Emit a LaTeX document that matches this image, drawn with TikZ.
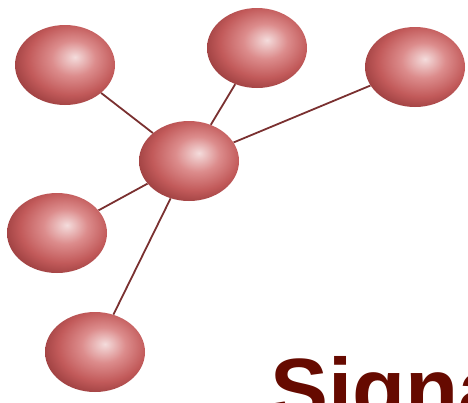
\documentclass[tikz,border=0pt]{standalone}
\usepackage{fontspec}
\setsansfont{Liberation Sans}
\usepackage{xcolor}
\usetikzlibrary{
  positioning,
  shapes.geometric,
  backgrounds
}
\definecolor{edgecol}{HTML}{7A3030}
\definecolor{titlecol}{HTML}{660A00}
\definecolor{ballhi}{HTML}{F4DCDC}
\definecolor{ballmid}{HTML}{DC8C8C}
\definecolor{ballbody}{HTML}{C25A5A}
\definecolor{ballrim}{HTML}{8E3536}
\definecolor{balldark}{HTML}{642020}
\pgfdeclareradialshading{redball}{\pgfpoint{5bp}{5bp}}{%
  color(0bp)=(ballhi);
  color(11bp)=(ballmid);
  color(22bp)=(ballbody);
  color(33bp)=(ballrim);
  color(42bp)=(balldark);
  color(70bp)=(balldark)}

\begin{document}
\begin{tikzpicture}[
  x=1pt, y=1pt,
  ball/.style={
    ellipse,
    minimum width=100pt,
    minimum height=80pt,
    inner sep=0pt,
    shading=redball
  },
  link/.style={draw=edgecol, line width=1.8pt}
]
\useasboundingbox (0,0) rectangle (468,-402);

% Balls
\node[ball] (hub) at (189,-161) {};
\node[ball] (nw) at (65,-65) {};
\node[ball] (north) at (257,-48) {};
\node[ball] (east) at (415,-67) {};
\node[ball] (west) at (57,-233) {};
\node[ball] (south) at (95,-352) {};

% Links
\begin{scope}[on background layer]
\draw[link] (hub) -- (nw);
\draw[link] (hub) -- (north);
\draw[link] (hub) -- (east);
\draw[link] (hub) -- (west);
\draw[link] (hub) -- (south);
\end{scope}

% Title
\node[anchor=base west, inner sep=0pt, text=titlecol,
  font=\sffamily\bfseries\fontsize{87}{87}\selectfont] (title) at (270,-419) {Signa};

\end{tikzpicture}
\end{document}
